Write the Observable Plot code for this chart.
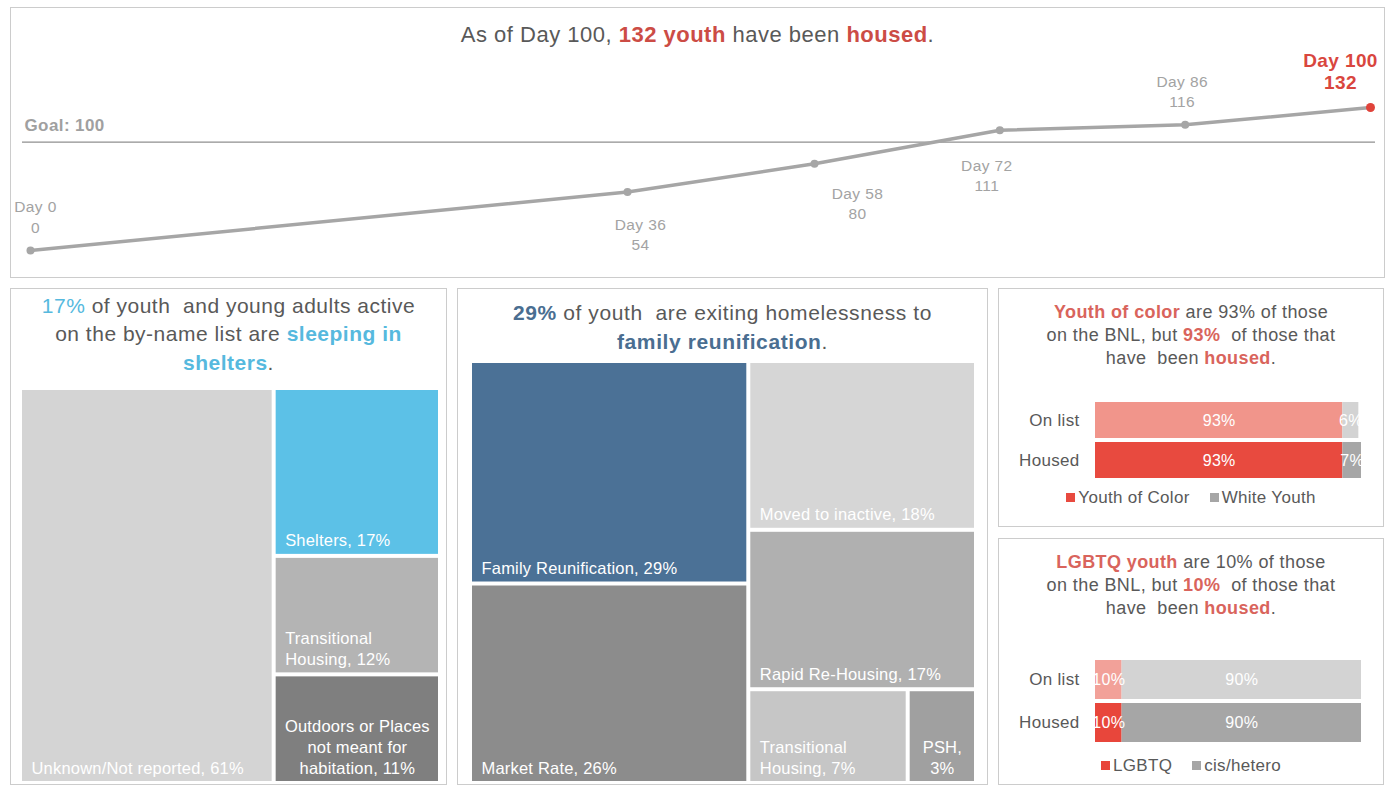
<!DOCTYPE html>
<html><head><meta charset="utf-8">
<script src="https://cdn.jsdelivr.net/npm/d3@7"></script>
<script src="https://cdn.jsdelivr.net/npm/@observablehq/plot@0.6"></script>
<style>
body{margin:0;background:#fff;}
#root{position:relative;width:1389px;height:789px;overflow:hidden;font-family:"Liberation Sans",Arial,sans-serif;color:#595959;background:#fff;}
.panel{position:absolute;box-sizing:border-box;border:1.5px solid #cccccc;}
.title{position:absolute;text-align:center;white-space:nowrap;}
.legend{position:absolute;text-align:center;white-space:nowrap;font-size:17px;letter-spacing:0.3px;color:#595959;}
.sw{display:inline-block;width:9px;height:9px;margin-right:3px;vertical-align:1px;}
</style></head><body><div id="root"></div>
<script>
// ---------- data ----------
const days = [0, 36, 58, 72, 86, 100];
const housedCount = [0, 54, 80, 111, 116, 132];
const goal = 100;

const shelterCategories = ["Unknown/Not reported", "Shelters", "Transitional Housing", "Outdoors or Places not meant for habitation"];
const shelterLabels = ["Unknown/Not reported, 61%", "Shelters, 17%", "Transitional\nHousing, 12%", "Outdoors or Places\nnot meant for\nhabitation, 11%"];
const shelterShares = [61, 17, 12, 11];

const exitCategories = ["Family Reunification", "Market Rate", "Moved to inactive", "Rapid Re-Housing", "Transitional Housing", "PSH"];
const exitLabels = ["Family Reunification, 29%", "Market Rate, 26%", "Moved to inactive, 18%", "Rapid Re-Housing, 17%", "Transitional\nHousing, 7%", "PSH,\n3%"];
const exitShares = [29, 26, 18, 17, 7, 3];

const barRows = ["On list", "Housed"];
const raceGroups = ["Youth of Color", "White Youth"];
const raceOnList = [93, 6];
const raceHoused = [93, 7];
const lgbtqGroups = ["LGBTQ", "cis/hetero"];
const lgbtqOnList = [10, 90];
const lgbtqHoused = [10, 90];

// ---------- helpers ----------
const FONT = '"Liberation Sans", Arial, sans-serif';
const root = document.getElementById("root");
function addDiv(cls, left, top, width, height, html, css) {
  const d = document.createElement("div");
  d.className = cls;
  d.style.left = left + "px"; d.style.top = top + "px";
  if (width != null) d.style.width = width + "px";
  if (height != null) d.style.height = height + "px";
  if (html) d.innerHTML = html;
  if (css) Object.assign(d.style, css);
  root.appendChild(d);
  return d;
}
function place(el, left, top) {
  el.style.position = "absolute"; el.style.left = left + "px"; el.style.top = top + "px";
  root.appendChild(el);
}
const baseStyle = {background: "transparent", overflow: "visible", fontFamily: FONT, maxWidth: "none"};

// ---------- panels ----------
addDiv("panel", 10, 7, 1375, 271);
addDiv("panel", 10, 288, 437, 497);
addDiv("panel", 457, 288, 531, 497);
addDiv("panel", 998, 288, 386, 239);
addDiv("panel", 998, 538, 386, 247);

const RED = "#cc4c45", SALMON = "#d9645c", LBLUE = "#56b9de", SBLUE = "#4a6e91";

// ---------- titles ----------
addDiv("title", 10, 22, 1375, null,
  `As of Day 100, <b style="color:${RED}">132 youth</b> have been <b style="color:${RED}">housed</b>.`,
  {fontSize: "22px", lineHeight: "26px", letterSpacing: "0.5px"});
addDiv("title", 10, 291.5, 437, null,
  `<span style="color:${LBLUE}">17%</span> of youth&nbsp; and young adults active<br>on the by-name list are <b style="color:${LBLUE}">sleeping in</b><br><b style="color:${LBLUE}">shelters</b>.`,
  {fontSize: "21px", lineHeight: "28.5px", letterSpacing: "0.5px"});
addDiv("title", 457, 297.5, 531, null,
  `<b style="color:${SBLUE}">29%</b> of youth&nbsp; are exiting homelessness to<br><b style="color:${SBLUE}">family reunification</b>.`,
  {fontSize: "21px", lineHeight: "29px", letterSpacing: "0.6px"});
addDiv("title", 998, 301.3, 386, null,
  `<b style="color:${SALMON}">Youth of color</b> are 93% of those<br>on the BNL, but <b style="color:${SALMON}">93%</b>&nbsp; of those that<br>have&nbsp; been <b style="color:${SALMON}">housed</b>.`,
  {fontSize: "18px", lineHeight: "23px", letterSpacing: "0.4px"});
addDiv("title", 998, 551.3, 386, null,
  `<b style="color:${SALMON}">LGBTQ youth</b> are 10% of those<br>on the BNL, but <b style="color:${SALMON}">10%</b>&nbsp; of those that<br>have&nbsp; been <b style="color:${SALMON}">housed</b>.`,
  {fontSize: "18px", lineHeight: "23px", letterSpacing: "0.4px"});

// ---------- top line chart ----------
const timeline = days.map((d, i) => ({day: d, housed: housedCount[i]}));
const labelSpots = {0: [5, -18], 36: [13, 58], 58: [43, 55], 72: [-13, 61], 86: [-3, -18], 100: [-30, -19]};
const lineLabels = timeline.map((p, i) => {
  const [dx, dy] = labelSpots[p.day];
  const last = i === timeline.length - 1;
  return Plot.text([p], {
    x: "day", y: "housed", text: d => `Day ${d.day}\n${d.housed}`,
    dx, dy, lineAnchor: "bottom", textAnchor: "middle",
    fill: last ? "#d9463e" : "#a3a3a3",
    fontSize: last ? 19 : 15.5, fontWeight: last ? "bold" : "normal",
    lineHeight: last ? 1.15 : 1.3
  });
});
const topChart = Plot.plot({
  width: 1389, height: 280, marginTop: 0, marginBottom: 0, marginLeft: 22, marginRight: 14,
  x: {type: "linear", domain: [0, 36, 58, 100], range: [30, 627, 814, 1370], axis: null},
  y: {domain: [0, 132], range: [250, 107], axis: null},
  style: {...baseStyle, letterSpacing: "0.4px"},
  marks: [
    Plot.ruleY([goal], {stroke: "#8f8f8f", strokeWidth: 1.2}),
    Plot.text([goal], {y: d => d, frameAnchor: "left", text: d => `Goal: ${d}`, dx: 2, dy: -11,
      lineAnchor: "bottom", textAnchor: "start", fill: "#a0a0a0", fontWeight: "bold", fontSize: 17}),
    Plot.line(timeline, {x: "day", y: "housed", stroke: "#a6a6a6", strokeWidth: 3.5}),
    Plot.dot(timeline.slice(0, -1), {x: "day", y: "housed", r: 4, fill: "#a6a6a6"}),
    Plot.dot(timeline.slice(-1), {x: "day", y: "housed", r: 4.5, fill: "#e0433a"}),
    ...lineLabels
  ]
});
place(topChart, 0, 0);

// ---------- treemaps ----------
function treemapChart(cats, labels, shares, colors, centered, left, top, w, h, pad) {
  const tree = d3.hierarchy({children: cats.map((c, i) => ({name: c, label: labels[i], value: shares[i]}))})
    .sum(d => d.value || 0).sort((a, b) => b.value - a.value);
  d3.treemap().tile(d3.treemapSquarify.ratio(1)).size([w, h]).paddingInner(pad).round(false)(tree);
  const cells = tree.leaves().map(l => ({...l.data, x0: l.x0, x1: l.x1, y0: l.y0, y1: l.y1}));
  const leftCells = cells.filter(c => !centered.includes(c.name));
  const midCells = cells.filter(c => centered.includes(c.name));
  const chart = Plot.plot({
    width: w, height: h, margin: 0,
    x: {domain: [0, w], axis: null},
    y: {domain: [0, h], range: [0, h], axis: null},
    color: {domain: cats, range: colors},
    style: {...baseStyle, letterSpacing: "0.2px"},
    marks: [
      Plot.rect(cells, {x1: "x0", x2: "x1", y1: "y0", y2: "y1", fill: "name"}),
      Plot.text(leftCells, {x: "x0", y: "y1", text: "label", dx: 9, dy: -8, textAnchor: "start",
        lineAnchor: "bottom", fill: "white", fontSize: 16.5, lineHeight: 1.25}),
      Plot.text(midCells, {x: d => (d.x0 + d.x1) / 2, y: "y1", text: "label", dy: -8, textAnchor: "middle",
        lineAnchor: "bottom", fill: "white", fontSize: 16.5, lineHeight: 1.25})
    ]
  });
  place(chart, left, top);
}
treemapChart(shelterCategories, shelterLabels, shelterShares,
  ["#d4d4d4", "#5cc1e7", "#b4b4b4", "#7f7f7f"],
  ["Outdoors or Places not meant for habitation"], 22, 390, 416, 391, 4);
treemapChart(exitCategories, exitLabels, exitShares,
  ["#4b7196", "#8c8c8c", "#d6d6d6", "#b0b0b0", "#c6c6c6", "#a0a0a0"],
  ["PSH"], 472, 363, 502, 418, 4);

// ---------- stacked bars ----------
function barChart(groups, onList, housedVals, colors, top, height, y0, y1, legendTop) {
  const rows = [];
  barRows.forEach((r, ri) => {
    const vals = ri === 0 ? onList : housedVals;
    groups.forEach((g, gi) => rows.push({row: r, group: g, value: vals[gi], key: `${r}|${g}`}));
  });
  const keys = rows.map(d => d.key);
  const chart = Plot.plot({
    width: 386, height, marginLeft: 97, marginRight: 23, marginTop: 0, marginBottom: 0,
    x: {domain: [0, 100], axis: null},
    y: {type: "band", domain: barRows, range: [y0 - top, y1 - top], paddingInner: 0.1, paddingOuter: 0.05, axis: null},
    color: {domain: keys, range: colors},
    style: {...baseStyle, letterSpacing: "0.3px"},
    marks: [
      Plot.barX(rows, Plot.stackX({x: "value", y: "row", fill: "key"})),
      Plot.text(rows, Plot.stackX({x: "value", y: "row", text: d => d.value + "%", fill: "white", fontSize: 16})),
      Plot.text(barRows, {y: d => d, frameAnchor: "left", text: d => d, dx: -16, textAnchor: "end",
        fill: "#595959", fontSize: 17})
    ]
  });
  place(chart, 998, top);
  const lg = addDiv("legend", 998, legendTop, 386, null,
    groups.map((g, gi) => `<span class="sw" style="background:${colors[2 + gi]}"></span>${g}`).join('<span style="display:inline-block;width:20px"></span>'));
}
barChart(raceGroups, raceOnList, raceHoused, ["#f1958b", "#d3d3d3", "#e84a3f", "#a6a6a6"], 380, 110, 400, 480, 488);
barChart(lgbtqGroups, lgbtqOnList, lgbtqHoused, ["#f2a199", "#d3d3d3", "#e8463b", "#a6a6a6"], 640, 115, 658, 744, 756);
</script></body></html>
